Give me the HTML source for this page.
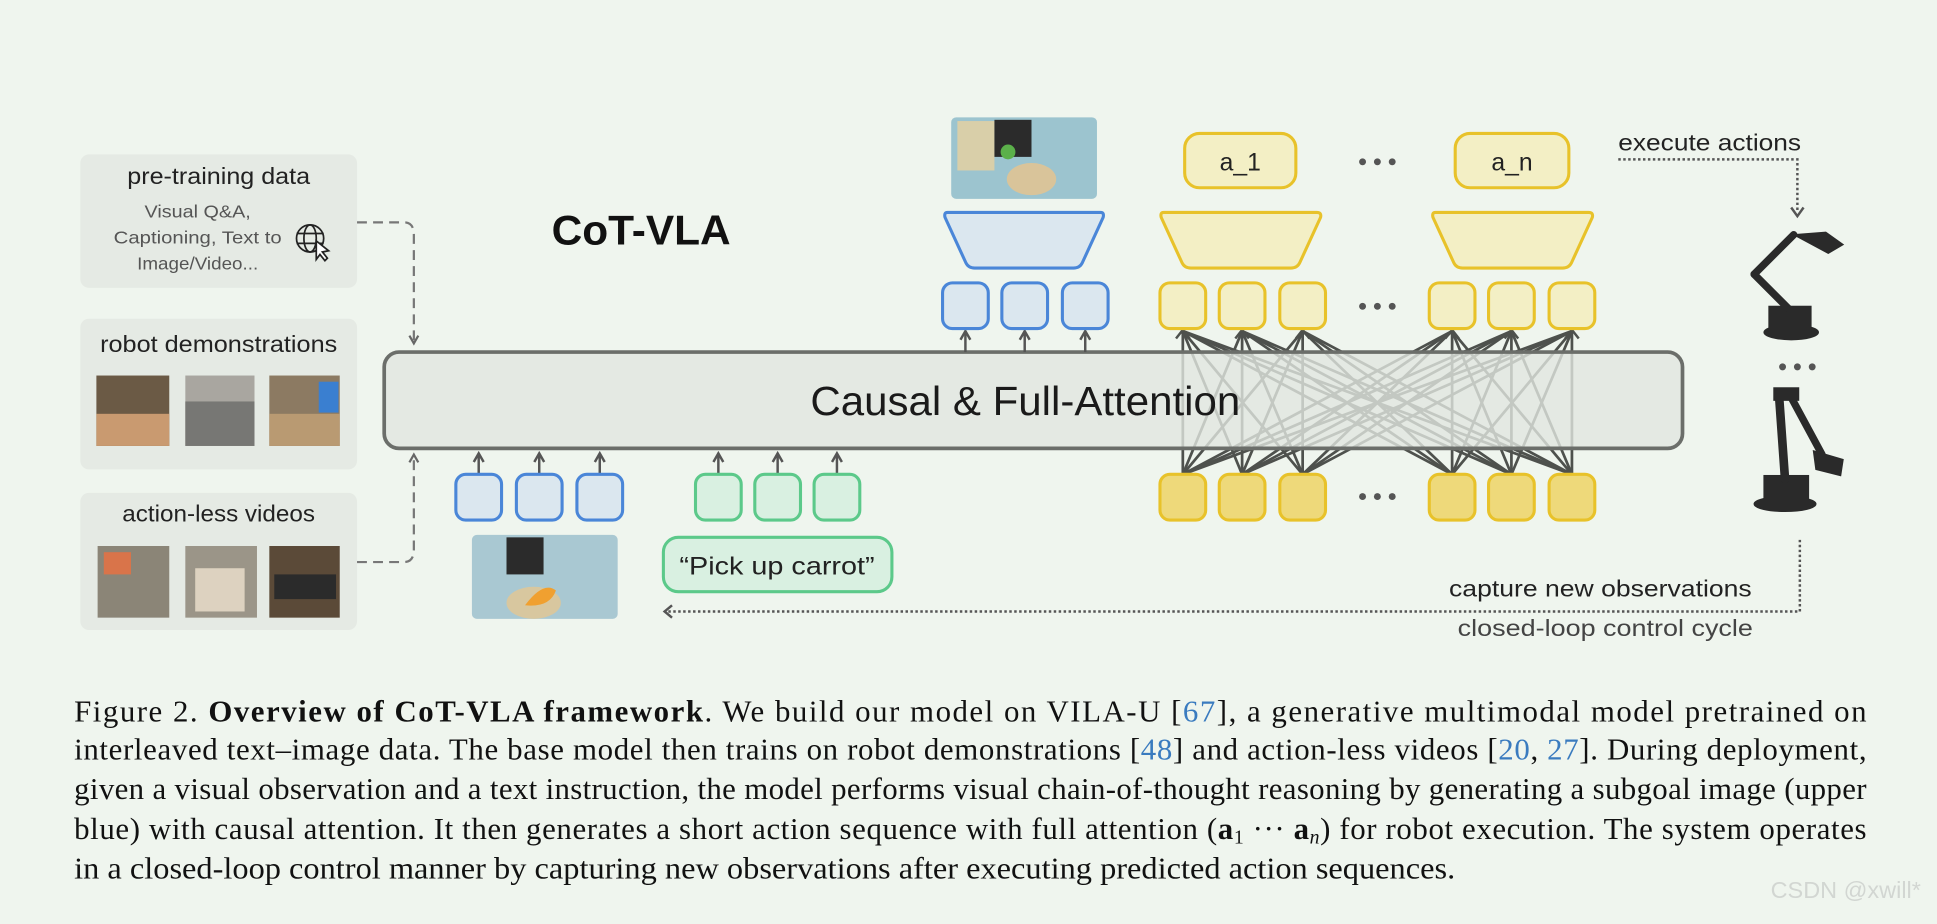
<!DOCTYPE html>
<html><head><meta charset="utf-8"><style>
html,body{margin:0;padding:0;background:#eff5ee;}
svg{display:block;}
</style></head><body>
<svg width="1937" height="924" viewBox="0 0 1568 748" xmlns="http://www.w3.org/2000/svg" font-family="'Liberation Sans', sans-serif">
<defs>
<marker id="ah" viewBox="0 0 10 10" refX="8" refY="5" markerWidth="5" markerHeight="5" orient="auto-start-reverse"><path d="M1,1 L8,5 L1,9" fill="none" stroke="#555" stroke-width="2"/></marker>
<marker id="ahg" viewBox="0 0 10 10" refX="8" refY="5" markerWidth="5" markerHeight="5" orient="auto-start-reverse"><path d="M1,1 L8,5 L1,9" fill="none" stroke="#666" stroke-width="2"/></marker>
</defs>
<rect width="1568" height="748" fill="#eff5ee"/>

<!-- left boxes -->
<rect x="65" y="125" width="224" height="108" rx="7" fill="#e5eae4"/>
<text x="177" y="149" font-size="19" text-anchor="middle" fill="#222" textLength="148" lengthAdjust="spacingAndGlyphs">pre-training data</text>
<g font-size="14.5" fill="#555" text-anchor="middle">
<text x="160" y="176" textLength="86" lengthAdjust="spacingAndGlyphs">Visual Q&amp;A,</text>
<text x="160" y="197" textLength="136" lengthAdjust="spacingAndGlyphs">Captioning, Text to</text>
<text x="160" y="218" textLength="98" lengthAdjust="spacingAndGlyphs">Image/Video...</text>
</g>
<g stroke="#222" stroke-width="1.4" fill="none">
<circle cx="251" cy="193" r="11"/><ellipse cx="251" cy="193" rx="5" ry="11"/>
<line x1="240" y1="189" x2="262" y2="189"/><line x1="240" y1="197" x2="262" y2="197"/>
<path d="M256,195 L256,210 L259,206 L263,211 L265,209 L261,204 L266,203 Z" fill="#fff"/>
</g>

<rect x="65" y="258" width="224" height="122" rx="7" fill="#e5eae4"/>
<text x="177" y="285" font-size="19" text-anchor="middle" fill="#222" textLength="192" lengthAdjust="spacingAndGlyphs">robot demonstrations</text>
<rect x="78" y="304" width="59" height="57" fill="#6b5a45"/><rect x="78" y="335" width="59" height="26" fill="#c99a70"/>
<rect x="150" y="304" width="56" height="57" fill="#a9a6a0"/><rect x="150" y="325" width="56" height="36" fill="#777774"/>
<rect x="218" y="304" width="57" height="57" fill="#8c7a62"/><rect x="258" y="309" width="16" height="25" fill="#3a7fd0"/><rect x="218" y="335" width="57" height="26" fill="#b99a72"/>

<rect x="65" y="399" width="224" height="111" rx="7" fill="#e5eae4"/>
<text x="177" y="422" font-size="19" text-anchor="middle" fill="#222" textLength="156" lengthAdjust="spacingAndGlyphs">action-less videos</text>
<rect x="79" y="442" width="58" height="58" fill="#8b8577"/><rect x="84" y="447" width="22" height="18" fill="#d9744a"/>
<rect x="150" y="442" width="58" height="58" fill="#9b9588"/><rect x="158" y="460" width="40" height="35" fill="#ddd2c0"/>
<rect x="218" y="442" width="57" height="58" fill="#5b4a38"/><rect x="222" y="465" width="50" height="20" fill="#2b2b2b"/>

<!-- dashed connectors -->
<path d="M289,180 L327,180 Q335,180 335,190 L335,278" fill="none" stroke="#777" stroke-width="1.8" stroke-dasharray="8,5" marker-end="url(#ahg)"/>
<path d="M289,455 L327,455 Q335,455 335,445 L335,368" fill="none" stroke="#777" stroke-width="1.8" stroke-dasharray="8,5" marker-end="url(#ahg)"/>

<text x="519" y="198" font-size="34" font-weight="bold" text-anchor="middle" fill="#111" textLength="145" lengthAdjust="spacingAndGlyphs">CoT-VLA</text>

<!-- attention lines -->
<g stroke="#4e514d" stroke-width="2.2" stroke-linecap="round">
<line x1="957.5" y1="384" x2="957.5" y2="268"/><line x1="957.5" y1="384" x2="1005.5" y2="268"/><line x1="957.5" y1="384" x2="1054.5" y2="268"/><line x1="957.5" y1="384" x2="1175.5" y2="268"/><line x1="957.5" y1="384" x2="1223.5" y2="268"/><line x1="957.5" y1="384" x2="1272.5" y2="268"/>
<line x1="1005.5" y1="384" x2="957.5" y2="268"/><line x1="1005.5" y1="384" x2="1005.5" y2="268"/><line x1="1005.5" y1="384" x2="1054.5" y2="268"/><line x1="1005.5" y1="384" x2="1175.5" y2="268"/><line x1="1005.5" y1="384" x2="1223.5" y2="268"/><line x1="1005.5" y1="384" x2="1272.5" y2="268"/>
<line x1="1054.5" y1="384" x2="957.5" y2="268"/><line x1="1054.5" y1="384" x2="1005.5" y2="268"/><line x1="1054.5" y1="384" x2="1054.5" y2="268"/><line x1="1054.5" y1="384" x2="1175.5" y2="268"/><line x1="1054.5" y1="384" x2="1223.5" y2="268"/><line x1="1054.5" y1="384" x2="1272.5" y2="268"/>
<line x1="1175.5" y1="384" x2="957.5" y2="268"/><line x1="1175.5" y1="384" x2="1005.5" y2="268"/><line x1="1175.5" y1="384" x2="1054.5" y2="268"/><line x1="1175.5" y1="384" x2="1175.5" y2="268"/><line x1="1175.5" y1="384" x2="1223.5" y2="268"/><line x1="1175.5" y1="384" x2="1272.5" y2="268"/>
<line x1="1223.5" y1="384" x2="957.5" y2="268"/><line x1="1223.5" y1="384" x2="1005.5" y2="268"/><line x1="1223.5" y1="384" x2="1054.5" y2="268"/><line x1="1223.5" y1="384" x2="1175.5" y2="268"/><line x1="1223.5" y1="384" x2="1223.5" y2="268"/><line x1="1223.5" y1="384" x2="1272.5" y2="268"/>
<line x1="1272.5" y1="384" x2="957.5" y2="268"/><line x1="1272.5" y1="384" x2="1005.5" y2="268"/><line x1="1272.5" y1="384" x2="1054.5" y2="268"/><line x1="1272.5" y1="384" x2="1175.5" y2="268"/><line x1="1272.5" y1="384" x2="1223.5" y2="268"/><line x1="1272.5" y1="384" x2="1272.5" y2="268"/>
</g>
<g fill="none" stroke="#4e514d" stroke-width="2">
<path d="M952,274 L957.5,267 L963,274"/><path d="M1000,274 L1005.5,267 L1011,274"/><path d="M1049,274 L1054.5,267 L1060,274"/><path d="M1170,274 L1175.5,267 L1181,274"/><path d="M1218,274 L1223.5,267 L1229,274"/><path d="M1267,274 L1272.5,267 L1278,274"/>
</g>

<!-- main box -->
<rect x="311" y="285" width="1051" height="78" rx="12" fill="#e1e6e0" fill-opacity="0.8" stroke="#6b6e6a" stroke-width="3"/>
<text x="830" y="336" font-size="33" text-anchor="middle" fill="#1a1a1a" textLength="348" lengthAdjust="spacingAndGlyphs">Causal &amp; Full-Attention</text>

<!-- up arrows -->
<g stroke="#555" stroke-width="2" marker-end="url(#ah)">
<line x1="387.5" y1="384" x2="387.5" y2="367"/><line x1="436.5" y1="384" x2="436.5" y2="367"/><line x1="485.5" y1="384" x2="485.5" y2="367"/>
<line x1="581.5" y1="384" x2="581.5" y2="367"/><line x1="629.5" y1="384" x2="629.5" y2="367"/><line x1="677.5" y1="384" x2="677.5" y2="367"/>
<line x1="781.5" y1="285" x2="781.5" y2="268"/><line x1="829.5" y1="285" x2="829.5" y2="268"/><line x1="878.5" y1="285" x2="878.5" y2="268"/>
</g>

<!-- tokens -->
<g fill="#dbe7ef" stroke="#4a86d8" stroke-width="2.5">
<rect x="369" y="384" width="37" height="37" rx="8"/><rect x="418" y="384" width="37" height="37" rx="8"/><rect x="467" y="384" width="37" height="37" rx="8"/>
<rect x="763" y="229" width="37" height="37" rx="8"/><rect x="811" y="229" width="37" height="37" rx="8"/><rect x="860" y="229" width="37" height="37" rx="8"/>
<path d="M767,172 L891,172 Q894,172 893,176 L876,213 Q874,217 869,217 L789,217 Q784,217 782,213 L765,176 Q764,172 767,172 Z"/>
</g>
<g fill="#d9f0e1" stroke="#5cc98a" stroke-width="2.5">
<rect x="563" y="384" width="37" height="37" rx="8"/><rect x="611" y="384" width="37" height="37" rx="8"/><rect x="659" y="384" width="37" height="37" rx="8"/>
<rect x="537" y="435" width="185" height="44" rx="12"/>
</g>
<text x="629" y="465" font-size="20" text-anchor="middle" fill="#222" textLength="158" lengthAdjust="spacingAndGlyphs">“Pick up carrot”</text>

<g fill="#eed97a" stroke="#e8c22a" stroke-width="2.5">
<rect x="939" y="384" width="37" height="37" rx="8"/><rect x="987" y="384" width="37" height="37" rx="8"/><rect x="1036" y="384" width="37" height="37" rx="8"/>
<rect x="1157" y="384" width="37" height="37" rx="8"/><rect x="1205" y="384" width="37" height="37" rx="8"/><rect x="1254" y="384" width="37" height="37" rx="8"/>
</g>
<g fill="#f3efc5" stroke="#e8c22a" stroke-width="2.5">
<rect x="939" y="229" width="37" height="37" rx="8"/><rect x="987" y="229" width="37" height="37" rx="8"/><rect x="1036" y="229" width="37" height="37" rx="8"/>
<rect x="1157" y="229" width="37" height="37" rx="8"/><rect x="1205" y="229" width="37" height="37" rx="8"/><rect x="1254" y="229" width="37" height="37" rx="8"/>
<path d="M942,172 L1066,172 Q1070,172 1069,176 L1052,213 Q1050,217 1045,217 L964,217 Q959,217 957,213 L940,176 Q939,172 942,172 Z"/>
<path d="M1162,172 L1286,172 Q1290,172 1289,176 L1272,213 Q1270,217 1265,217 L1184,217 Q1179,217 1177,213 L1160,176 Q1159,172 1162,172 Z"/>
<rect x="959" y="108" width="90" height="44" rx="12"/><rect x="1178" y="108" width="92" height="44" rx="12"/>
</g>
<text x="1004" y="138" font-size="20" text-anchor="middle" fill="#222">a_1</text>
<text x="1224" y="138" font-size="20" text-anchor="middle" fill="#222">a_n</text>

<g fill="#555">
<circle cx="1103" cy="131" r="2.8"/><circle cx="1115" cy="131" r="2.8"/><circle cx="1127" cy="131" r="2.8"/>
<circle cx="1103" cy="248" r="2.8"/><circle cx="1115" cy="248" r="2.8"/><circle cx="1127" cy="248" r="2.8"/>
<circle cx="1103" cy="402" r="2.8"/><circle cx="1115" cy="402" r="2.8"/><circle cx="1127" cy="402" r="2.8"/>
<circle cx="1443" cy="297" r="2.8"/><circle cx="1455" cy="297" r="2.8"/><circle cx="1467" cy="297" r="2.8"/>
</g>

<!-- photos -->
<rect x="770" y="95" width="118" height="66" rx="4" fill="#9cc4cf"/>
<rect x="775" y="98" width="30" height="40" fill="#d9cfa9"/><rect x="805" y="97" width="30" height="30" fill="#2b2b2b"/>
<circle cx="816" cy="123" r="6" fill="#5bb04a"/><ellipse cx="835" cy="145" rx="20" ry="13" fill="#d9c49a"/>
<rect x="382" y="433" width="118" height="68" rx="4" fill="#a9c8d2"/>
<rect x="410" y="435" width="30" height="30" fill="#2b2b2b"/><ellipse cx="432" cy="488" rx="22" ry="13" fill="#d8c79f"/><path d="M425,490 Q440,470 450,478 Q445,492 425,490Z" fill="#f0a030"/>

<!-- dotted loop -->
<path d="M1310,129 L1455,129 L1455,172" fill="none" stroke="#555" stroke-width="2" stroke-dasharray="2,2"/>
<path d="M1450,168 L1455,175 L1460,168" fill="none" stroke="#555" stroke-width="2"/>
<path d="M1457,437 L1457,495 L540,495" fill="none" stroke="#555" stroke-width="2" stroke-dasharray="2,2"/>
<path d="M544,490 L538,495 L544,500" fill="none" stroke="#555" stroke-width="2"/>
<text x="1384" y="122" font-size="19" text-anchor="middle" fill="#222" textLength="148" lengthAdjust="spacingAndGlyphs">execute actions</text>
<text x="1418" y="483" font-size="19" text-anchor="end" fill="#222" textLength="245" lengthAdjust="spacingAndGlyphs">capture new observations</text>
<text x="1419" y="515" font-size="19" text-anchor="end" fill="#444" textLength="239" lengthAdjust="spacingAndGlyphs">closed-loop control cycle</text>

<!-- robots -->
<g fill="#2a2a2a" stroke="#2a2a2a" stroke-linecap="round">
<ellipse cx="1450" cy="269" rx="22" ry="6"/><rect x="1432" y="248" width="34" height="20"/>
<path d="M1448,250 L1420,222" stroke-width="6" fill="none"/><path d="M1420,222 L1452,190" stroke-width="6" fill="none"/>
<path d="M1452,190 L1478,188 L1492,198 L1480,205 Z"/>
<ellipse cx="1445" cy="408" rx="25" ry="6"/><rect x="1428" y="385" width="36" height="22"/>
<path d="M1445,388 L1440,318" stroke-width="7" fill="none"/><path d="M1448,318 L1475,368" stroke-width="6" fill="none"/>
<rect x="1436" y="314" width="20" height="10"/><path d="M1468,365 L1492,372 L1490,385 L1470,380 Z"/>
</g>

<!-- caption -->
<g font-family="'Liberation Serif', serif" font-size="25" fill="#111">
<text x="60" y="584" textLength="1451" lengthAdjust="spacing">Figure 2. <tspan font-weight="bold">Overview of CoT-VLA framework</tspan>. We build our model on VILA-U [<tspan fill="#3a7bbf">67</tspan>], a generative multimodal model pretrained on</text>
<text x="60" y="615" textLength="1451" lengthAdjust="spacing">interleaved text–image data. The base model then trains on robot demonstrations [<tspan fill="#3a7bbf">48</tspan>] and action-less videos [<tspan fill="#3a7bbf">20</tspan>, <tspan fill="#3a7bbf">27</tspan>]. During deployment,</text>
<text x="60" y="647" textLength="1451" lengthAdjust="spacing">given a visual observation and a text instruction, the model performs visual chain-of-thought reasoning by generating a subgoal image (upper</text>
<text x="60" y="679" textLength="1451" lengthAdjust="spacing">blue) with causal attention. It then generates a short action sequence with full attention (<tspan font-weight="bold">a</tspan><tspan font-size="16" dy="4">1</tspan><tspan dy="-4"> ··· </tspan><tspan font-weight="bold">a</tspan><tspan font-size="16" font-style="italic" dy="4">n</tspan><tspan dy="-4">) for robot execution. The system operates</tspan></text>
<text x="60" y="711" textLength="1118" lengthAdjust="spacingAndGlyphs">in a closed-loop control manner by capturing new observations after executing predicted action sequences.</text>
</g>
<text x="1555" y="727" font-size="19" text-anchor="end" fill="#d2d6d2">CSDN @xwill*</text>
</svg>
</body></html>
